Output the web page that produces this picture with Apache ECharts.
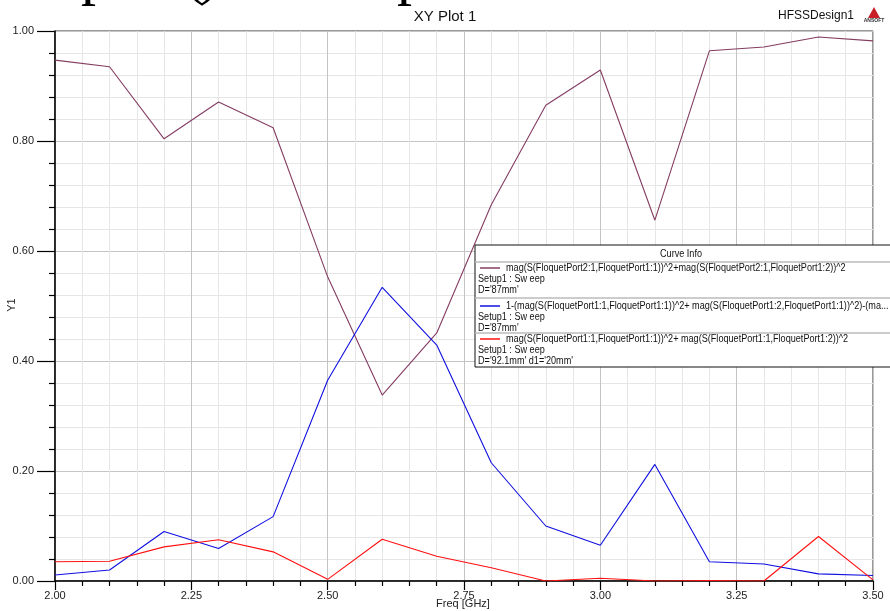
<!DOCTYPE html>
<html>
<head>
<meta charset="utf-8">
<script src="https://cdn.jsdelivr.net/npm/echarts@6/dist/echarts.min.js"></script>
<style>
  html, body { margin: 0; padding: 0; background: #fff; }
  #div1 { width: 890px; height: 611px; }
</style>
</head>
<body>
<div id="div1"></div>
<script>
// frequencies (GHz)
var freqs = [2.0, 2.1, 2.2, 2.3, 2.4, 2.5, 2.6, 2.7, 2.8, 2.9, 3.0, 3.1, 3.2, 3.3, 3.4, 3.5];
// mag(S21)^2 ... D='87mm'
var transVals = [0.947, 0.935, 0.804, 0.871, 0.824, 0.553, 0.338, 0.451, 0.684, 0.865, 0.929, 0.656, 0.964, 0.971, 0.989, 0.982];
// 1-(...) absorption, D='87mm'
var absorbVals = [0.011, 0.020, 0.090, 0.059, 0.117, 0.365, 0.534, 0.429, 0.215, 0.100, 0.065, 0.212, 0.035, 0.031, 0.013, 0.010];
// mag(S11)^2 ... D='92.1mm' d1='20mm'
var reflVals = [0.035, 0.036, 0.062, 0.075, 0.053, 0.003, 0.076, 0.045, 0.024, 0.000, 0.005, 0.000, 0.001, 0.000, 0.081, 0.002];

var curveNames = [
    "mag(S(FloquetPort2:1,FloquetPort1:1))^2+mag(S(FloquetPort2:1,FloquetPort1:2))^2",
    "1-(mag(S(FloquetPort1:1,FloquetPort1:1))^2+ mag(S(FloquetPort1:2,FloquetPort1:1))^2)-(ma...",
    "mag(S(FloquetPort1:1,FloquetPort1:1))^2+ mag(S(FloquetPort1:1,FloquetPort1:2))^2"
];
var curveSub = ["D='87mm'", "D='87mm'", "D='92.1mm' d1='20mm'"];
var curveColors = ['#843c62', '#1010e0', '#ff1010'];

function pairs(vals) {
    var out = [];
    for (var i = 0; i < freqs.length; i++) out.push([freqs[i], vals[i]]);
    return out;
}

var mychart = echarts.init(document.getElementById('div1'));
var font = 'Liberation Sans, Arial, sans-serif';

var series = [];
[transVals, absorbVals, reflVals].forEach(function (v, i) {
    series.push({
        name: curveNames[i],
        type: 'line',
        data: pairs(v),
        showSymbol: false,
        symbol: 'none',
        silent: true,
        lineStyle: { color: curveColors[i], width: 1.1 },
        z: 3 + i
    });
});

// legend box ("Curve Info") built as graphic
var lg = [];
var bx = 475, by = 245;
var sx = 0.91; // HFSS legend font is a bit narrower than Arial
lg.push({ type: 'rect', shape: { x: bx, y: by, width: 420, height: 122 },
    style: { fill: '#fff', stroke: '#111', lineWidth: 1 }, z: 50 });
lg.push({ type: 'text', x: 681, y: 254, scaleX: sx, style: { text: 'Curve Info', font: '10px ' + font, fill: '#111', align: 'center', verticalAlign: 'middle' }, z: 51 });
[262, 298, 333].forEach(function (yy) {
    lg.push({ type: 'line', shape: { x1: bx, y1: yy, x2: 890, y2: yy }, style: { stroke: '#bbb', lineWidth: 1.5 }, z: 51 });
});
var rowTop = [268, 306, 339];
for (var k = 0; k < 3; k++) {
    var ry = rowTop[k];
    lg.push({ type: 'line', shape: { x1: 480, y1: ry, x2: 500, y2: ry }, style: { stroke: curveColors[k], lineWidth: 1.5 }, z: 51 });
    lg.push({ type: 'text', x: 506, y: ry, scaleX: sx, style: { text: curveNames[k], font: '10px ' + font, fill: '#111', verticalAlign: 'middle' }, z: 51 });
    lg.push({ type: 'text', x: 478, y: ry + 11.5, scaleX: sx, style: { text: 'Setup1 : Sw eep', font: '10px ' + font, fill: '#111', verticalAlign: 'middle' }, z: 51 });
    lg.push({ type: 'text', x: 478, y: ry + 22.5, scaleX: sx, style: { text: curveSub[k], font: '10px ' + font, fill: '#111', verticalAlign: 'middle' }, z: 51 });
}

var option = {
    animation: false,
    backgroundColor: '#fff',
    title: {
        text: 'XY Plot 1',
        left: 'center',
        top: 4,
        textStyle: { fontFamily: font, fontSize: 15, fontWeight: 'normal', color: '#111' }
    },
    grid: {
        left: 55, right: 17, top: 31, bottom: 30,
        show: true,
        borderColor: '#333',
        borderWidth: 1
    },
    xAxis: {
        type: 'value',
        min: 2, max: 3.5, interval: 0.25,
        axisLine: { onZero: false, lineStyle: { color: '#000', width: 1.5 } },
        axisTick: { show: true, length: 9, lineStyle: { color: '#000', width: 1.2 } },
        minorTick: { show: true, splitNumber: 5, length: 5, lineStyle: { color: '#000', width: 1.2 } },
        axisLabel: { margin: 9, color: '#222', fontFamily: font, fontSize: 11,
            formatter: function (v) { return v.toFixed(2); } },
        splitLine: { show: true, lineStyle: { color: '#c4c4c4', width: 1 } },
        minorSplitLine: { show: true, lineStyle: { color: '#e6e6e6', width: 1 } }
    },
    yAxis: {
        type: 'value',
        min: 0, max: 1, interval: 0.2,
        axisLine: { show: true, onZero: false, lineStyle: { color: '#000', width: 1.5 } },
        axisTick: { show: true, length: 18, lineStyle: { color: '#000', width: 1.2 } },
        minorTick: { show: true, splitNumber: 5, length: 6, lineStyle: { color: '#000', width: 1.2 } },
        axisLabel: { margin: 21, color: '#222', fontFamily: font, fontSize: 11,
            formatter: function (v) { return v.toFixed(2); } },
        splitLine: { show: true, lineStyle: { color: '#c4c4c4', width: 1 } },
        minorSplitLine: { show: true, lineStyle: { color: '#e6e6e6', width: 1 } }
    },
    graphic: [
        { type: 'text', x: 463, y: 604, style: { text: 'Freq [GHz]', font: '11px ' + font, fill: '#222', align: 'center', verticalAlign: 'middle' } },
        { type: 'text', x: 12, y: 305, rotation: Math.PI / 2, style: { text: 'Y1', font: '11px ' + font, fill: '#222', align: 'center', verticalAlign: 'middle' } },
        { type: 'text', x: 816, y: 16, style: { text: 'HFSSDesign1', font: '12px ' + font, fill: '#111', align: 'center', verticalAlign: 'middle' } },
        { type: 'polygon', shape: { points: [[874, 7], [868, 18], [880, 18]] }, style: { fill: '#c81e28' } },
        { type: 'text', x: 874, y: 21, style: { text: 'ANSOFT', font: 'bold 5px ' + font, fill: '#333', align: 'center', verticalAlign: 'middle' } },
        // cropped document text above the figure
        { type: 'text', x: 81, y: 7.5, style: { text: 'p', font: '60px Liberation Serif, serif', fill: '#000', verticalAlign: 'bottom' } },
        { type: 'text', x: 184, y: 7.5, style: { text: '(', font: '60px Liberation Serif, serif', fill: '#000', verticalAlign: 'bottom' } },
        { type: 'text', x: 200, y: 7.5, style: { text: ')', font: '60px Liberation Serif, serif', fill: '#000', verticalAlign: 'bottom' } },
        { type: 'text', x: 397, y: 7.5, style: { text: 'p', font: '60px Liberation Serif, serif', fill: '#000', verticalAlign: 'bottom' } }
    ].concat(lg),
    series: series
};
mychart.setOption(option);
</script>
</body>
</html>
